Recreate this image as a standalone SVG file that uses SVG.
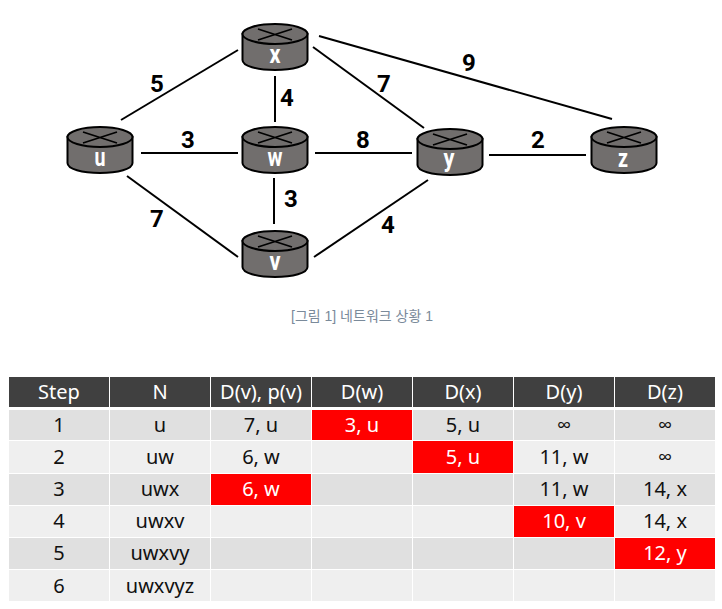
<svg xmlns="http://www.w3.org/2000/svg" width="722" height="609" viewBox="0 0 722 609">
<style>
.bg{fill:#fff}
.e{stroke:#000;stroke-width:2;fill:none}
.w{font:bold 24px Roboto,"Liberation Sans",sans-serif;fill:#000;text-anchor:middle}
.body{fill:#716e6d;stroke:#000;stroke-width:2}
.top{fill:#716e6d;stroke:#000;stroke-width:2}
.cross{stroke:#000;stroke-width:1.8;fill:none}
.nl{font:bold 26px Roboto,"Liberation Sans",sans-serif;fill:#fff;text-anchor:middle}
.cap{font:14px "Liberation Sans","Noto Sans CJK KR",sans-serif;fill:#7a8a9a;text-anchor:middle}
.h{fill:#404040}.a{fill:#e0e0e0}.b{fill:#efefef}.r{fill:#f00}
.t{font:20px "Noto Sans","Open Sans",sans-serif;fill:#111;text-anchor:middle}
.tw{font:20px "Noto Sans","Open Sans",sans-serif;fill:#fff;text-anchor:middle}
</style>
<defs>
<g id="router">
<path class="body" d="M-32.500-13V13C-32.500 19-18 23 0 23S32.500 19 32.500 13V-13Z"/>
<ellipse class="top" cx="0" cy="-13" rx="32.500" ry="10"/>
<path class="cross" d="M-17-18 17-7M-17-7 17-18"/>
</g>
</defs>
<rect class="bg" width="722" height="609"/>
<g id="connectors" class="e">
<path d="M121 120 238 50"/>
<path d="M141 153H238"/>
<path d="M127 176 238 257"/>
<path d="M275 76V122"/>
<path d="M274 178V224"/>
<path d="M315 153H412"/>
<path d="M313 47 424 128"/>
<path d="M319 36 612 119"/>
<path d="M314 257 428 180"/>
<path d="M489 155H586"/>
</g>
<g id="edge-labels">
<text class="w" x="157" y="92">5</text>
<text class="w" x="188" y="148">3</text>
<text class="w" x="157" y="227">7</text>
<text class="w" x="287" y="106">4</text>
<text class="w" x="291" y="207">3</text>
<text class="w" x="363" y="148">8</text>
<text class="w" x="384" y="92">7</text>
<text class="w" x="469" y="71">9</text>
<text class="w" x="388" y="233">4</text>
<text class="w" x="538" y="148">2</text>
</g>
<g id="node-x"><use href="#router" x="275" y="47"/><text class="nl" x="275" y="63" textLength="11" lengthAdjust="spacingAndGlyphs">x</text></g>
<g id="node-u"><use href="#router" x="100" y="150"/><text class="nl" x="100" y="166" textLength="11" lengthAdjust="spacingAndGlyphs">u</text></g>
<g id="node-w"><use href="#router" x="275" y="150"/><text class="nl" x="275" y="166" textLength="15" lengthAdjust="spacingAndGlyphs">w</text></g>
<g id="node-v"><use href="#router" x="275" y="254"/><text class="nl" x="275" y="270" textLength="11" lengthAdjust="spacingAndGlyphs">v</text></g>
<g id="node-y"><use href="#router" x="450" y="152"/><text class="nl" x="449" y="167" textLength="11" lengthAdjust="spacingAndGlyphs">y</text></g>
<g id="node-z"><use href="#router" x="624" y="150"/><text class="nl" x="623" y="167" textLength="10" lengthAdjust="spacingAndGlyphs">z</text></g>
<text class="cap" x="362" y="321">[그림 1] 네트워크 상황 1</text>
<g id="table">
<rect class="h" x="9" y="377" width="100" height="30"/><rect class="h" x="110" y="377" width="100" height="30"/><rect class="h" x="211" y="377" width="100" height="30"/><rect class="h" x="312" y="377" width="100" height="30"/><rect class="h" x="413" y="377" width="100" height="30"/><rect class="h" x="514" y="377" width="100" height="30"/><rect class="h" x="615" y="377" width="100" height="30"/>
<rect class="a" x="9" y="410" width="100" height="30"/><rect class="a" x="110" y="410" width="100" height="30"/><rect class="a" x="211" y="410" width="100" height="30"/><rect class="r" x="312" y="410" width="100" height="30"/><rect class="a" x="413" y="410" width="100" height="30"/><rect class="a" x="514" y="410" width="100" height="30"/><rect class="a" x="615" y="410" width="100" height="30"/>
<rect class="b" x="9" y="441" width="100" height="32"/><rect class="b" x="110" y="441" width="100" height="32"/><rect class="b" x="211" y="441" width="100" height="32"/><rect class="b" x="312" y="441" width="100" height="32"/><rect class="r" x="413" y="441" width="100" height="32"/><rect class="b" x="514" y="441" width="100" height="32"/><rect class="b" x="615" y="441" width="100" height="32"/>
<rect class="a" x="9" y="474" width="100" height="31"/><rect class="a" x="110" y="474" width="100" height="31"/><rect class="r" x="211" y="474" width="100" height="31"/><rect class="a" x="312" y="474" width="100" height="31"/><rect class="a" x="413" y="474" width="100" height="31"/><rect class="a" x="514" y="474" width="100" height="31"/><rect class="a" x="615" y="474" width="100" height="31"/>
<rect class="b" x="9" y="506" width="100" height="31"/><rect class="b" x="110" y="506" width="100" height="31"/><rect class="b" x="211" y="506" width="100" height="31"/><rect class="b" x="312" y="506" width="100" height="31"/><rect class="b" x="413" y="506" width="100" height="31"/><rect class="r" x="514" y="506" width="100" height="31"/><rect class="b" x="615" y="506" width="100" height="31"/>
<rect class="a" x="9" y="538" width="100" height="31"/><rect class="a" x="110" y="538" width="100" height="31"/><rect class="a" x="211" y="538" width="100" height="31"/><rect class="a" x="312" y="538" width="100" height="31"/><rect class="a" x="413" y="538" width="100" height="31"/><rect class="a" x="514" y="538" width="100" height="31"/><rect class="r" x="615" y="538" width="100" height="31"/>
<rect class="b" x="9" y="570" width="100" height="31"/><rect class="b" x="110" y="570" width="100" height="31"/><rect class="b" x="211" y="570" width="100" height="31"/><rect class="b" x="312" y="570" width="100" height="31"/><rect class="b" x="413" y="570" width="100" height="31"/><rect class="b" x="514" y="570" width="100" height="31"/><rect class="b" x="615" y="570" width="100" height="31"/>
<text class="tw" x="59" y="399">Step</text><text class="tw" x="160" y="399">N</text><text class="tw" x="261" y="399">D(v), p(v)</text><text class="tw" x="362" y="399">D(w)</text><text class="tw" x="463" y="399">D(x)</text><text class="tw" x="564" y="399">D(y)</text><text class="tw" x="665" y="399">D(z)</text>
<text class="t" x="59" y="432">1</text><text class="t" x="160" y="432">u</text><text class="t" x="261" y="432">7, u</text><text class="tw" x="362" y="432">3, u</text><text class="t" x="463" y="432">5, u</text><text class="t" x="564" y="432">∞</text><text class="t" x="665" y="432">∞</text>
<text class="t" x="59" y="464">2</text><text class="t" x="160" y="464">uw</text><text class="t" x="261" y="464">6, w</text><text class="tw" x="463" y="464">5, u</text><text class="t" x="564" y="464">11, w</text><text class="t" x="665" y="464">∞</text>
<text class="t" x="59" y="496">3</text><text class="t" x="160" y="496">uwx</text><text class="tw" x="261" y="496">6, w</text><text class="t" x="564" y="496">11, w</text><text class="t" x="665" y="496">14, x</text>
<text class="t" x="59" y="528">4</text><text class="t" x="160" y="528">uwxv</text><text class="tw" x="564" y="528">10, v</text><text class="t" x="665" y="528">14, x</text>
<text class="t" x="59" y="560">5</text><text class="t" x="160" y="560">uwxvy</text><text class="tw" x="665" y="560">12, y</text>
<text class="t" x="59" y="593">6</text><text class="t" x="160" y="593">uwxvyz</text>
</g>
</svg>
